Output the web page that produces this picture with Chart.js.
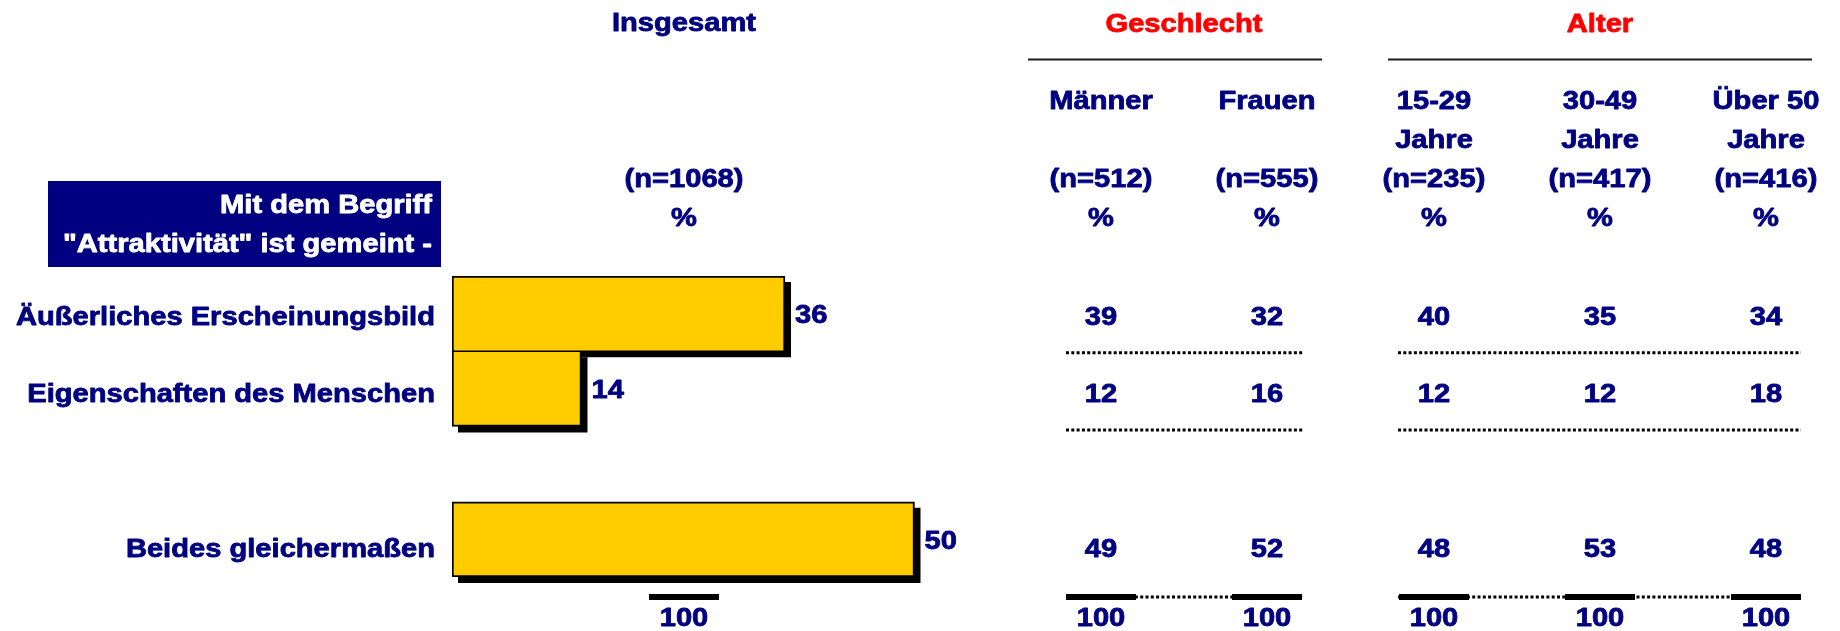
<!DOCTYPE html>
<html><head><meta charset="utf-8">
<script src="https://cdn.jsdelivr.net/npm/chart.js@4.4.1/dist/chart.umd.min.js"></script>
<style>html,body{margin:0;padding:0;background:#fff}#wrap{width:1840px;height:631px;position:relative}</style>
</head><body><div id="wrap"><canvas id="c" width="1840" height="631"></canvas></div>
<script>
// ---- data ----
const categories = ['Äußerliches Erscheinungsbild', 'Eigenschaften des Menschen', '', 'Beides gleichermaßen'];
const insgesamt = [36, 14, null, 50];
const maenner   = [39, 12, null, 49];
const frauen    = [32, 16, null, 52];
const jahre1529 = [40, 12, null, 48];
const jahre3049 = [35, 12, null, 53];
const ueber50   = [34, 18, null, 48];
const totals    = [100, 100, 100, 100, 100, 100];
const groupTitles = ['Insgesamt', 'Geschlecht', 'Alter'];
const columnHeads = [
  ['', '', '(n=1068)', '%'],
  ['Männer', '', '(n=512)', '%'],
  ['Frauen', '', '(n=555)', '%'],
  ['15-29', 'Jahre', '(n=235)', '%'],
  ['30-49', 'Jahre', '(n=417)', '%'],
  ['Über 50', 'Jahre', '(n=416)', '%']
];
const questionLines = ['Mit dem Begriff', '"Attraktivität" ist gemeint -'];
const tableSeries = [maenner, frauen, jahre1529, jahre3049, ueber50];

// ---- style / layout ----
const NAVY = '#000080', RED = '#FF0000', YELLOW = '#FFCC00';
const FS = 26, SX = 1.12;
const FONT = '"Liberation Sans", Arial, Helvetica, sans-serif';
const colX = [684, 1101, 1267, 1434, 1600, 1766];
const headRowY = [99.5, 138.5, 177.5, 216.5];
const rowOff = [2, 4, 0, 8];

function txt(ctx, s, x, yc, align, color, size) {
  size = size || FS;
  ctx.save();
  ctx.font = 'bold ' + size + 'px ' + FONT;
  ctx.fillStyle = color;
  ctx.strokeStyle = color;
  ctx.lineWidth = 0.8;
  ctx.lineJoin = 'round';
  ctx.textAlign = align;
  ctx.textBaseline = 'alphabetic';
  ctx.translate(x, yc + size * 0.716 / 2);
  ctx.scale(SX, 1);
  ctx.fillText(s, 0, 0);
  ctx.strokeText(s, 0, 0);
  ctx.restore();
}
function hline(ctx, x1, x2, y, w, dash, color) {
  ctx.save();
  ctx.strokeStyle = color || '#000';
  ctx.lineWidth = w;
  ctx.setLineDash(dash || []);
  ctx.beginPath(); ctx.moveTo(x1, y); ctx.lineTo(x2, y); ctx.stroke();
  ctx.restore();
}

const shadowPlugin = {
  id: 'shadow',
  beforeDatasetsDraw(chart) {
    const ctx = chart.ctx;
    const meta = chart.getDatasetMeta(0);
    meta.data.forEach((el, i) => {
      if (insgesamt[i] == null) return;
      const p = el.getProps(['x', 'y', 'base', 'height'], true);
      ctx.fillStyle = '#000';
      ctx.fillRect(Math.min(p.base, p.x) + 6, p.y - p.height / 2 + 6, Math.abs(p.x - p.base), p.height);
    });
  }
};

const textPlugin = {
  id: 'texts',
  afterDraw(chart) {
    const ctx = chart.ctx;
    const ys = chart.scales.y;
    const area = chart.chartArea;
    const rowY = categories.map((c, i) => ys.getPixelForValue(i) + rowOff[i]);

    // group titles
    txt(ctx, groupTitles[0], colX[0], 22, 'center', NAVY);
    txt(ctx, groupTitles[1], (colX[1] + colX[2]) / 2, 22.5, 'center', RED);
    txt(ctx, groupTitles[2], colX[4], 22.5, 'center', RED);
    hline(ctx, 1028, 1322, 59.5, 2, null, '#1a1a1a');
    hline(ctx, 1388, 1812, 59.5, 2, null, '#1a1a1a');

    // column heads
    columnHeads.forEach((rows, c) => rows.forEach((s, r) => {
      if (s) txt(ctx, s, colX[c], headRowY[r], 'center', NAVY);
    }));

    // question box
    ctx.fillStyle = NAVY;
    ctx.fillRect(48, 181, 393, 86);
    txt(ctx, questionLines[0], 432, 204, 'right', '#fff');
    txt(ctx, questionLines[1], 432, 242.5, 'right', '#fff');

    // category labels
    categories.forEach((s, i) => { if (s) txt(ctx, s, 435, rowY[i], 'right', NAVY); });

    // bar value labels
    const meta = chart.getDatasetMeta(0);
    meta.data.forEach((el, i) => {
      if (insgesamt[i] == null) return;
      const p = el.getProps(['x', 'y'], true);
      txt(ctx, String(insgesamt[i]), p.x + 10, p.y, 'left', NAVY);
    });

    // table values
    tableSeries.forEach((ser, c) => ser.forEach((v, i) => {
      if (v != null) txt(ctx, String(v), colX[c + 1], rowY[i], 'center', NAVY);
    }));

    // dotted separators
    const c0 = ys.getPixelForValue(0), c1 = ys.getPixelForValue(1), c2 = ys.getPixelForValue(2);
    const sepY = [(c0 + c1) / 2 + 1.5, (c1 + c2) / 2 + 3.5];
    const dash = [3, 2.3];
    sepY.forEach(y => {
      hline(ctx, 1066, 1303, y, 3, dash);
      hline(ctx, 1398, 1801, y, 3, dash);
    });

    // bottom total line
    const by = area.bottom + 20;
    hline(ctx, 1066, 1303, by, 3, dash);
    hline(ctx, 1398, 1801, by, 3, dash);
    colX.forEach(x => hline(ctx, x - 35, x + 35, by, 6));
    totals.forEach((t, c) => txt(ctx, String(t), colX[c], 617, 'center', NAVY));
  }
};

new Chart(document.getElementById('c'), {
  type: 'bar',
  data: {
    labels: categories,
    datasets: [{
      data: insgesamt,
      backgroundColor: YELLOW,
      borderColor: '#000',
      borderWidth: (ctx) => {
        const i = ctx.dataIndex;
        return { left: 2, right: 2, top: i === 1 ? 1 : 2, bottom: i === 0 ? 1 : 2 };
      },
      borderSkipped: false,
      barPercentage: 1,
      categoryPercentage: 1
    }]
  },
  options: {
    indexAxis: 'y',
    responsive: false,
    animation: false,
    devicePixelRatio: 1,
    layout: { padding: { left: 452, right: 463, top: 276, bottom: 54 } },
    scales: {
      x: { display: false, min: 0, max: 100 },
      y: { display: false }
    },
    plugins: { legend: { display: false }, tooltip: { enabled: false }, title: { display: false } }
  },
  plugins: [shadowPlugin, textPlugin]
});
</script>
</body></html>
